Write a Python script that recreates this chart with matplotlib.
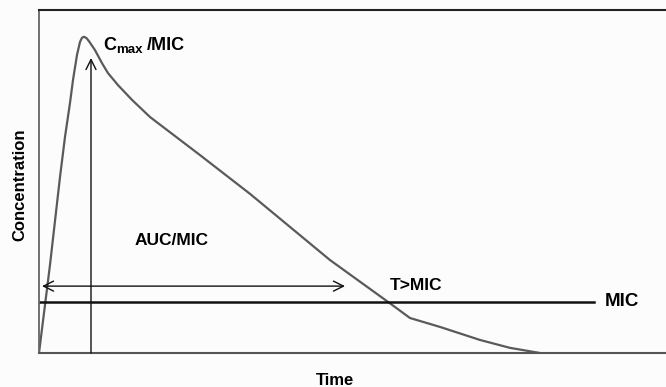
import matplotlib
matplotlib.use('Agg')
import matplotlib.pyplot as plt

plt.rcParams['font.family'] = ['Liberation Sans', 'DejaVu Sans']

# concentration-time curve (arbitrary units)
time = [0.0, 0.22, 0.42, 0.52, 0.62, 0.68, 0.76, 0.82, 0.86, 0.90, 0.95,
        1.00, 1.12, 1.26, 1.38, 1.58, 1.86, 2.22, 3.22, 4.22, 5.82, 6.98,
        7.42, 8.02, 8.82, 9.42, 10.02]
conc = [0.0, 2.57, 5.13, 6.30, 7.29, 7.96, 8.69, 9.07, 9.19, 9.22, 9.18,
        9.09, 8.83, 8.45, 8.16, 7.81, 7.38, 6.88, 5.77, 4.64, 2.71, 1.49,
        1.02, 0.76, 0.38, 0.15, 0.0]

mic_level = 1.49
mic_end = 11.1
t_peak = 1.04
c_arrow_top = 8.6
t_above = (0.06, 6.12)
c_above = 1.95

fig = plt.figure(figsize=(6.66, 3.87), dpi=100)
ax = fig.add_axes([39 / 666, 34 / 387, 627 / 666, 343 / 387])
ax.set_xlim(0, 12.54)
ax.set_ylim(0, 10)

ax.plot(time, conc, color='#5a5a5a', linewidth=1.6, solid_joinstyle='round',
        solid_capstyle='round')
ax.plot([0, mic_end], [mic_level, mic_level], color='#111111', linewidth=1.8)

# T>MIC double arrow
ax.annotate('', xy=(t_above[0], c_above), xytext=(t_above[1], c_above),
            arrowprops=dict(arrowstyle='<->', color='#111111', lw=1.0,
                            mutation_scale=18, shrinkA=0, shrinkB=0))
# Cmax arrow
ax.annotate('', xy=(t_peak, c_arrow_top), xytext=(t_peak, 0),
            arrowprops=dict(arrowstyle='->', color='#111111', lw=1.0,
                            mutation_scale=18, shrinkA=0, shrinkB=0))

# C_max /MIC label (C, subscript, rest)
lbl = (1.28, 8.83)
ax.annotate('C', lbl, fontsize=13, fontweight='bold', va='baseline', ha='left')
ax.annotate('max', lbl, xytext=(9.6, -1.8), textcoords='offset points',
            fontsize=9.5, fontweight='bold', va='baseline', ha='left')
ax.annotate('/MIC', lbl, xytext=(31.8, 0), textcoords='offset points',
            fontsize=13, fontweight='bold', va='baseline', ha='left')

ax.text(1.92, 3.29, 'AUC/MIC', fontsize=12.5, fontweight='bold', va='center')
ax.text(7.02, 1.98, 'T>MIC', fontsize=12.5, fontweight='bold', va='center')
ax.text(11.32, 1.49, 'MIC', fontsize=13.5, fontweight='bold', va='center')

ax.set_xlabel('Time', fontsize=12, fontweight='bold', va='center')
ax.xaxis.set_label_coords(0.472, -0.079)
ax.set_ylabel('Concentration', fontsize=12, fontweight='bold', va='center')
ax.yaxis.set_label_coords(-0.031, 0.49)

ax.set_xticks([])
ax.set_yticks([])
ax.spines['right'].set_visible(False)
ax.spines['top'].set_color('#222222')
ax.spines['top'].set_linewidth(1.5)
ax.spines['left'].set_color('#666666')
ax.spines['left'].set_linewidth(1.3)
ax.spines['bottom'].set_color('#555555')
ax.spines['bottom'].set_linewidth(1.5)
ax.set_facecolor('#fcfcfc')
fig.patch.set_facecolor('#fcfcfc')

fig.savefig('out.png', dpi=100)
